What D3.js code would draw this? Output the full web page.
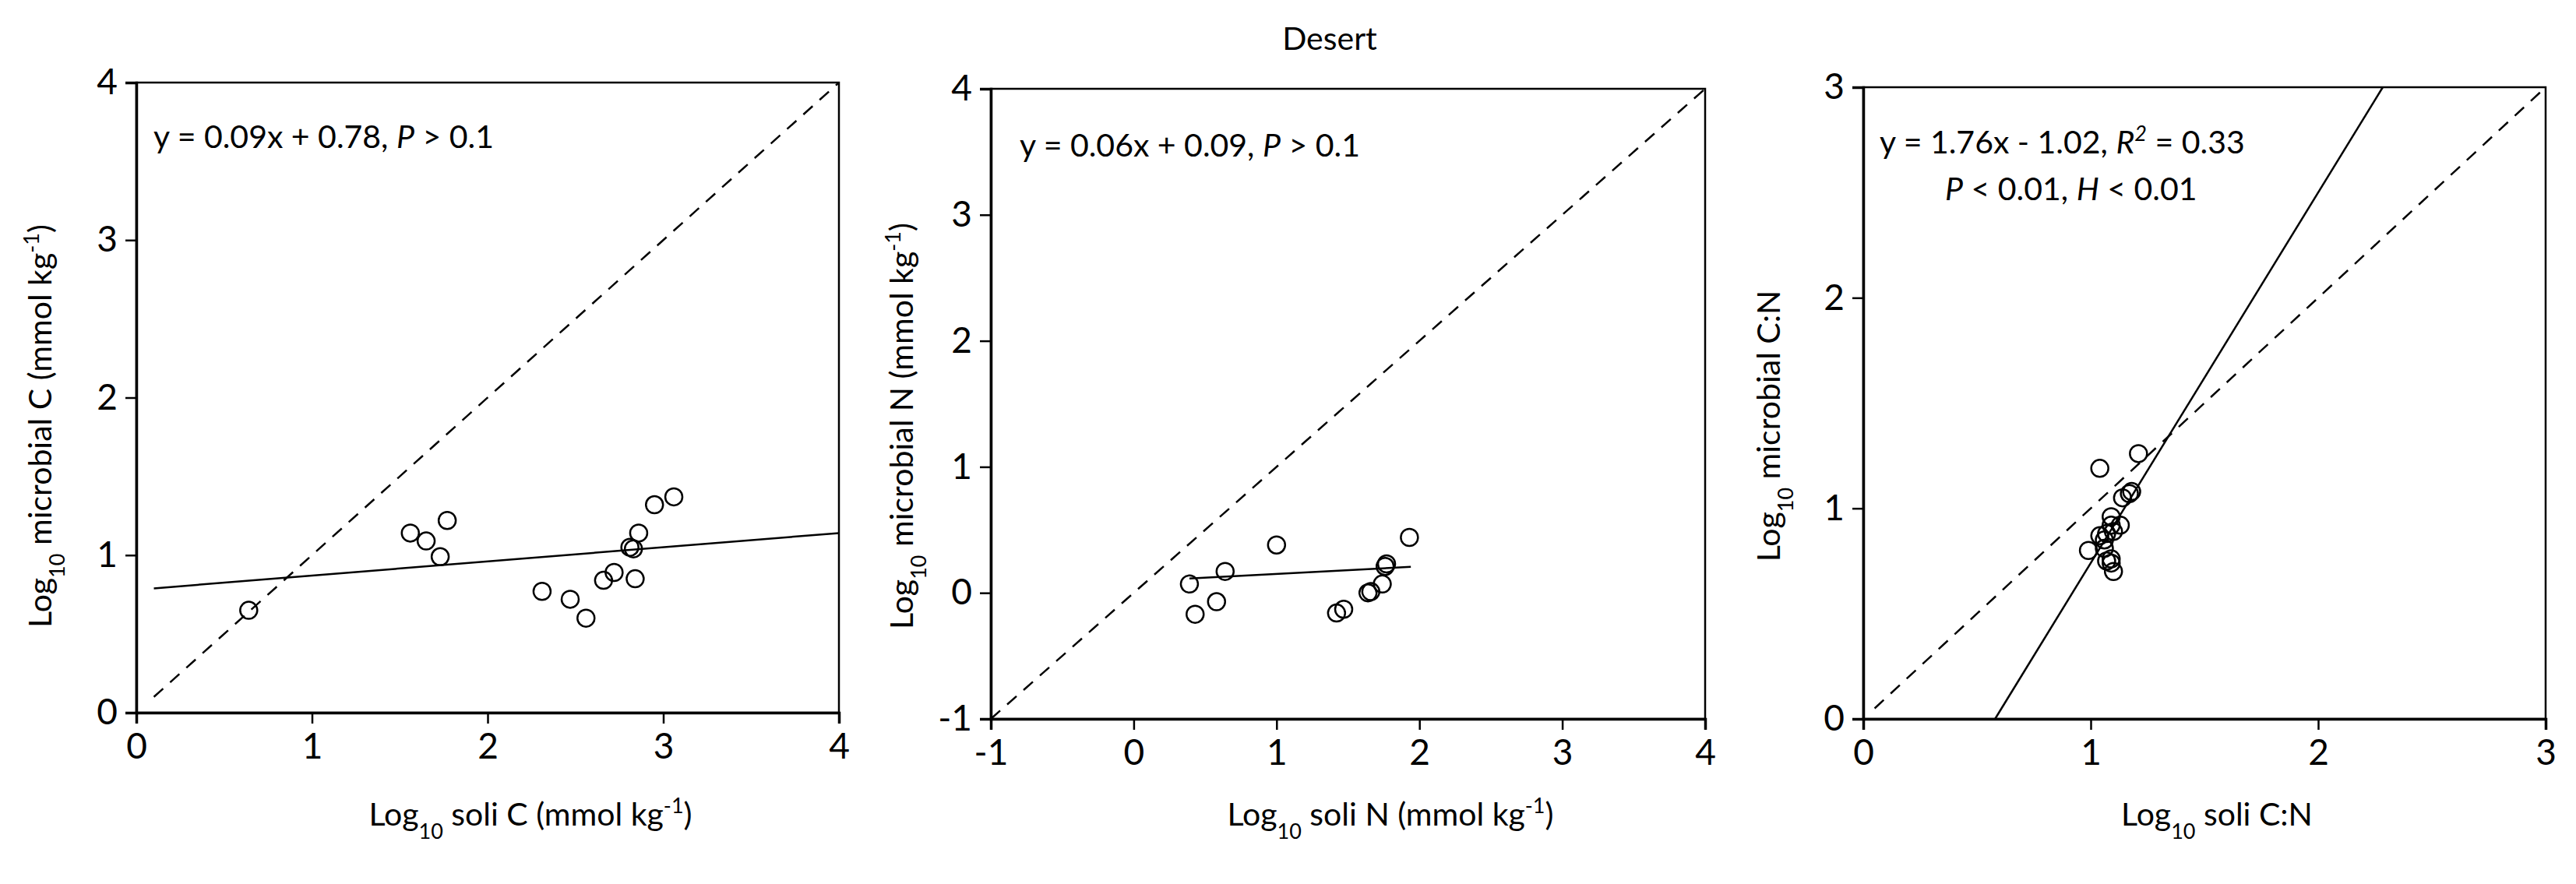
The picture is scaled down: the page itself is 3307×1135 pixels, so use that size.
<!DOCTYPE html>
<html><head><meta charset="utf-8">
<script src="https://cdn.jsdelivr.net/npm/d3@7"></script>
<style>body{margin:0;background:#fff}svg{font-family:Lato,"Open Sans",sans-serif}</style>
</head><body><svg id="c" width="3307" height="1135"></svg>
<script>
// panel 1: soil C vs microbial C
var soilC = [0.64,1.56,1.65,1.73,1.77,2.31,2.47,2.56,2.66,2.72,2.81,2.83,2.84,2.86,2.95,3.06];
var micC  = [0.65,1.14,1.09,0.99,1.22,0.77,0.72,0.60,0.84,0.89,1.05,1.04,0.85,1.14,1.32,1.37];
// panel 2: soil N vs microbial N
var soilN = [0.39,0.43,0.58,0.64,1.00,1.42,1.47,1.64,1.66,1.74,1.76,1.77,1.93];
var micN  = [0.07,-0.17,-0.07,0.17,0.38,-0.16,-0.13,0.00,0.01,0.07,0.21,0.23,0.44];
// panel 3: soil C:N vs microbial C:N
var soilCN = [0.99,1.04,1.04,1.06,1.06,1.07,1.09,1.09,1.10,1.09,1.09,1.10,1.13,1.14,1.17,1.18,1.21,1.07];
var micCN  = [0.80,1.19,0.87,0.85,0.81,0.88,0.92,0.96,0.89,0.76,0.74,0.70,0.92,1.05,1.07,1.08,1.26,0.75];

var ticks1 = [0,1,2,3,4], ticks2 = [-1,0,1,2,3,4], ticks3 = [0,1,2,3];

var svg = d3.select('#c');
var FS = 41, TFS = 46, SFS = 27;

svg.append('text').text('Desert').attr('x', 1707).attr('y', 64)
  .attr('text-anchor','middle').attr('font-size', FS);

var panels = [
  {x0:175, x1:1077, y0:915, y1:106, dom:[0,4], ticks:ticks1, xs:soilC, ys:micC,
   fit:{m:0.09, b:0.78, from:0.1, to:4}, dash:[0.1,4],
   eq:[{x:197,y:190,parts:[['y = 0.09x + 0.78, '],['P','i'],[' > 0.1']]}],
   xl:{x:681,y:1060,el:' soli C (mmol kg', sup:true},
   yl:{x:66,y:547,el:'microbial C (mmol kg', sup:true}},
  {x0:1272, x1:2189, y0:923, y1:114, dom:[-1,4], ticks:ticks2, xs:soilN, ys:micN,
   fit:{m:0.06, b:0.09, from:0.39, to:1.94}, dash:[-1,4],
   eq:[{x:1309,y:201,parts:[['y = 0.06x + 0.09, '],['P','i'],[' > 0.1']]}],
   xl:{x:1785,y:1060,el:'soli N (mmol kg', sup:true},
   yl:{x:1172,y:547,el:'  microbial N (mmol kg', sup:true}},
  {x0:2392, x1:3268, y0:923, y1:112, dom:[0,3], ticks:ticks3, xs:soilCN, ys:micCN,
   fit:{m:1.76, b:-1.02, from:1.02/1.76, to:4.02/1.76}, dash:[0.05,3],
   eq:[{x:2413,y:197,parts:[['y = 1.76x - 1.02, '],['R','i'],['2','s'],[' = 0.33']]},
       {x:2497,y:257,parts:[['P','i'],[' < 0.01, '],['H','i'],[' < 0.01']]}],
   xl:{x:2846,y:1060,el:'  soli C:N', sup:false},
   yl:{x:2285,y:547,el:'microbial C:N', sup:false}}
];

panels.forEach(function(p) {
  var x = d3.scaleLinear().domain(p.dom).range([p.x0, p.x1]);
  var y = d3.scaleLinear().domain(p.dom).range([p.y0, p.y1]);
  var g = svg.append('g');

  // frame
  g.append('rect').attr('x', p.x0).attr('y', p.y1)
    .attr('width', p.x1 - p.x0).attr('height', p.y0 - p.y1)
    .attr('fill','none').attr('stroke','#000').attr('stroke-width', 2.5);

  var fmt = function(d) { return String(d); };
  var xa = g.append('g').attr('transform','translate(0,' + p.y0 + ')')
    .call(d3.axisBottom(x).tickValues(p.ticks).tickSize(14).tickPadding(12).tickFormat(fmt));
  var ya = g.append('g').attr('transform','translate(' + p.x0 + ',0)')
    .call(d3.axisLeft(y).tickValues(p.ticks).tickSize(14).tickPadding(10).tickFormat(fmt));
  [xa, ya].forEach(function(a) {
    a.selectAll('path').attr('stroke-width', 3.5);
    a.selectAll('line').attr('stroke-width', 2.5);
    a.selectAll('text').attr('font-size', TFS).attr('font-family','Lato,"Open Sans",sans-serif');
  });

  // 1:1 line
  g.append('line').attr('x1', x(p.dash[0])).attr('y1', y(p.dash[0]))
    .attr('x2', x(p.dash[1])).attr('y2', y(p.dash[1]))
    .attr('stroke','#000').attr('stroke-width', 2.5).attr('stroke-dasharray','16,12');

  // regression
  var f = p.fit;
  g.append('line').attr('x1', x(f.from)).attr('y1', y(f.m * f.from + f.b))
    .attr('x2', x(f.to)).attr('y2', y(f.m * f.to + f.b))
    .attr('stroke','#000').attr('stroke-width', 2.5);

  g.selectAll('circle.pt').data(p.xs).enter().append('circle')
    .attr('cx', function(d) { return x(d); })
    .attr('cy', function(d, i) { return y(p.ys[i]); })
    .attr('r', 11).attr('fill','none').attr('stroke','#000').attr('stroke-width', 2.5);

  p.eq.forEach(function(e) {
    var t = g.append('text').attr('x', e.x).attr('y', e.y).attr('font-size', FS);
    e.parts.forEach(function(pt) {
      var s = t.append('tspan').text(pt[0]);
      if (pt[1] == 'i') s.attr('font-style','italic');
      if (pt[1] == 's') s.attr('font-style','italic').attr('font-size', SFS).attr('baseline-shift','super');
    });
  });

  // axis labels
  var label = function(l, rot) {
    var t = g.append('text').attr('text-anchor','middle').attr('font-size', FS)
      .attr('transform', 'translate(' + l.x + ',' + l.y + ')' + (rot ? ' rotate(-90)' : ''));
    t.append('tspan').text('Log');
    t.append('tspan').text('10').attr('font-size', SFS).attr('baseline-shift','sub');
    t.append('tspan').text(' ' + l.el);
    if (l.sup) {
      t.append('tspan').text('-1').attr('font-size', SFS).attr('baseline-shift','super');
      t.append('tspan').text(')');
    }
  };
  label(p.xl, false);
  label(p.yl, true);
});
</script></body></html>
